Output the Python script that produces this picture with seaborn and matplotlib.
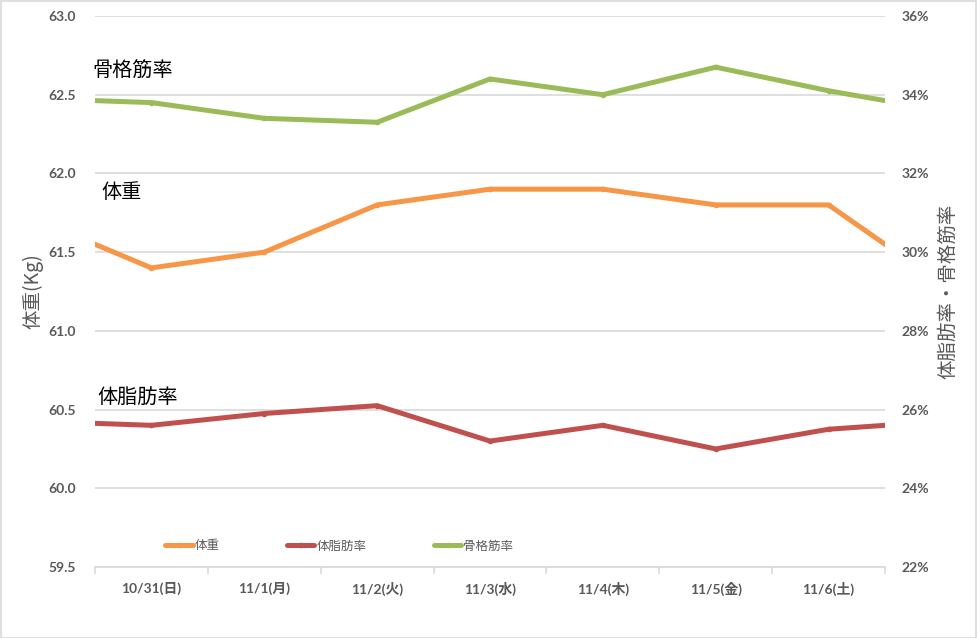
import matplotlib
matplotlib.use("Agg")
import matplotlib.pyplot as plt
import seaborn as sns
import numpy as np
from matplotlib.patches import Rectangle
from matplotlib.ticker import FixedLocator, FuncFormatter

# ---- data ----
dates = ["10/30(土)", "10/31(日)", "11/1(月)", "11/2(火)", "11/3(水)",
         "11/4(木)", "11/5(金)", "11/6(土)", "11/7(日)"]
weight = [61.7, 61.4, 61.5, 61.8, 61.9, 61.9, 61.8, 61.8, 61.3]
body_fat = [25.7, 25.6, 25.9, 26.1, 25.2, 25.6, 25.0, 25.5, 25.7]
muscle = [33.9, 33.8, 33.4, 33.3, 34.4, 34.0, 34.7, 34.1, 33.6]
left_ticks = [59.5, 60.0, 60.5, 61.0, 61.5, 62.0, 62.5, 63.0]
right_ticks = [22, 24, 26, 28, 30, 32, 34, 36]

sns.set_theme(style="white")
plt.rcParams['font.family'] = ['Lato', 'Noto Sans CJK JP', 'DejaVu Sans']

C_W = "#F79646"
C_F = "#C0504D"
C_M = "#9BBB59"
GRID = "#D9D9D9"
TXT = "#595959"
CJK = ['Noto Sans CJK JP', 'DejaVu Sans']

W, H = 977, 638
fig = plt.figure(figsize=(W / 100, H / 100), dpi=100)
L, R, T, B = 95, 885, 16, 567
ax = fig.add_axes([L / W, 1 - B / H, (R - L) / W, (B - T) / H])
ax2 = ax.twinx()

x = np.arange(len(dates))

sns.lineplot(x=x, y=weight, ax=ax, color=C_W, linewidth=3.6, marker='o',
             markersize=4, markeredgewidth=0, label="体重", legend=False)
sns.lineplot(x=x, y=body_fat, ax=ax2, color=C_F, linewidth=3.6, marker='o',
             markersize=4, markeredgewidth=0, label="体脂肪率", legend=False)
sns.lineplot(x=x, y=muscle, ax=ax2, color=C_M, linewidth=3.6, marker='o',
             markersize=4, markeredgewidth=0, label="骨格筋率", legend=False)

for a in (ax, ax2):
    for s in a.spines.values():
        s.set_visible(False)
ax.spines['bottom'].set_visible(True)
ax.spines['bottom'].set_color(GRID)
ax.spines['bottom'].set_linewidth(1.2)

ax.set_ylim(59.5, 63.0)
ax2.set_ylim(22, 36)
ax.set_yticks(left_ticks)
ax.yaxis.set_major_formatter(FuncFormatter(lambda v, p: f"{v:.1f}"))
ax2.set_yticks(right_ticks)
ax2.yaxis.set_major_formatter(FuncFormatter(lambda v, p: f"{int(round(v))}%"))
ax.set_ylim(59.5, 63.0)
ax2.set_ylim(22, 36)
ax.grid(axis='y', color=GRID, linewidth=1.2)
ax.set_axisbelow(True)
ax2.grid(False)

ax.tick_params(axis='y', length=0, pad=14, labelsize=10, labelcolor=TXT)
ax2.tick_params(axis='y', length=0, pad=12, labelsize=10, labelcolor=TXT)
for lab in ax.get_yticklabels() + ax2.get_yticklabels():
    lab.set_fontweight('bold')

ax.set_xticks(x)
ax.set_xticklabels(dates)
ax.xaxis.set_minor_locator(FixedLocator(np.arange(0.5, 8.0, 1.0)))
ax.tick_params(axis='x', which='major', length=0, pad=11, labelsize=10, labelcolor=TXT)
ax.tick_params(axis='x', which='minor', length=5, width=1.2, color=GRID, bottom=True)
for lab in ax.get_xticklabels():
    lab.set_fontweight('bold')
ax.set_xlabel("")
ax.set_xlim(0.5, 7.5)
ax2.set_xlim(0.5, 7.5)

ax.set_ylabel("")
ax2.set_ylabel("")
fig.text(33 / W, 1 - 291 / H, "体重(Kg)", rotation=90, ha='center', va='center',
         fontsize=14, color=TXT, family=CJK)
fig.text(948 / W, 1 - 291 / H, "体脂肪率・骨格筋率", rotation=90, ha='center', va='center',
         fontsize=14, color=TXT, family=CJK)

fig.text(92 / W, 1 - 71 / H, "骨格筋率", ha='left', va='center', fontsize=14.5,
         color='black', family=CJK)
fig.text(101 / W, 1 - 192 / H, "体重", ha='left', va='center', fontsize=14.5,
         color='black', family=CJK)
fig.text(97 / W, 1 - 397 / H, "体脂肪率", ha='left', va='center', fontsize=14.5,
         color='black', family=CJK)

h1, l1 = ax.get_legend_handles_labels()
h2, l2 = ax2.get_legend_handles_labels()
leg = fig.legend(h1 + h2, l1 + l2, loc='center left',
                 bbox_to_anchor=(165 / W, 1 - 546 / H), ncol=3, frameon=False,
                 fontsize=9, handlelength=2.2, handletextpad=0.15,
                 columnspacing=5.4, borderpad=0, borderaxespad=0)
for t in leg.get_texts():
    t.set_color(TXT)
    t.set_family(CJK)

fig.patches.append(Rectangle((0.5 / W, 0.5 / H), 1 - 1.5 / W, 1 - 1.5 / H,
                             transform=fig.transFigure, fill=False,
                             edgecolor=GRID, linewidth=1.2))

fig.savefig("out.png", dpi=100)
